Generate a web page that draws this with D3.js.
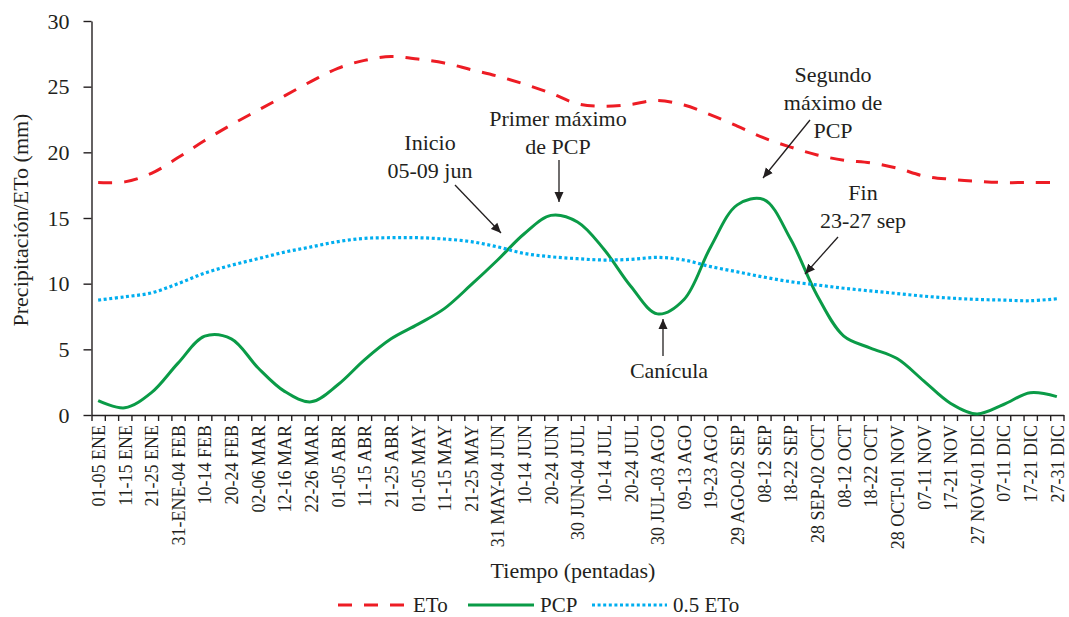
<!DOCTYPE html>
<html>
<head>
<meta charset="utf-8">
<script src="https://cdn.jsdelivr.net/npm/d3@7"></script>
<style>
  body { margin: 0; background: #fff; }
  svg { display: block; font-family: "Liberation Serif", "DejaVu Serif", serif; }
</style>
</head>
<body>
<svg id="chart"></svg>
<script>
// pentad labels (every other pentad is labelled, 73 pentads in total)
const labels = ["01-05 ENE","11-15 ENE","21-25 ENE","31-ENE-04 FEB","10-14 FEB","20-24 FEB",
  "02-06 MAR","12-16 MAR","22-26 MAR","01-05 ABR","11-15 ABR","21-25 ABR","01-05 MAY",
  "11-15 MAY","21-25 MAY","31 MAY-04 JUN","10-14 JUN","20-24 JUN","30 JUN-04 JUL",
  "10-14 JUL","20-24 JUL","30 JUL-03 AGO","09-13 AGO","19-23 AGO","29 AGO-02 SEP",
  "08-12 SEP","18-22 SEP","28 SEP-02 OCT","08-12 OCT","18-22 OCT","28 OCT-01 NOV",
  "07-11 NOV","17-21 NOV","27 NOV-01 DIC","07-11 DIC","17-21 DIC","27-31 DIC"];
const pentadCount = 73;

const eto = [17.7, 17.75, 18.4, 19.6, 20.9, 22.1, 23.2, 24.3, 25.4, 26.4, 27.0, 27.3, 27.1,
  26.8, 26.3, 25.8, 25.2, 24.5, 23.7, 23.5, 23.65, 23.95, 23.6, 22.85, 22.0, 21.1, 20.4,
  19.8, 19.4, 19.2, 18.8, 18.2, 17.95, 17.8, 17.7, 17.7, 17.7];
const pcp = [1.1, 0.55, 1.7, 3.95, 6.0, 5.8, 3.6, 1.8, 1.0, 2.3, 4.2, 5.8, 6.9, 8.1, 9.9,
  11.8, 13.8, 15.2, 14.7, 12.6, 9.8, 7.7, 8.8, 12.8, 16.0, 16.4, 13.4, 9.1, 6.0, 5.1, 4.3,
  2.6, 0.9, 0.08, 0.8, 1.7, 1.4];
const etoHalf = [8.75, 9.0, 9.3, 10.0, 10.8, 11.4, 11.9, 12.4, 12.8, 13.2, 13.45, 13.5, 13.5,
  13.4, 13.2, 12.8, 12.3, 12.05, 11.9, 11.8, 11.85, 12.0, 11.8, 11.3, 10.9, 10.5, 10.15,
  9.9, 9.65, 9.45, 9.25, 9.05, 8.9, 8.8, 8.75, 8.7, 8.85];
const yTicks = [0, 5, 10, 15, 20, 25, 30];

const width = 1069, height = 617;
const svg = d3.select("#chart").attr("width", width).attr("height", height);
const ink = "#231f20";

const x = d3.scaleLinear().domain([0, pentadCount]).range([91.5, 1063.5]);
const y = d3.scaleLinear().domain([0, 30]).range([415, 21]);
// centre of the labelled pentad k (pentad index 2k)
const px = k => x(2 * k + 0.5);

// Y axis
const yAxis = svg.append("g")
    .attr("transform", `translate(${x(0)},0)`)
    .call(d3.axisLeft(y).tickValues(yTicks).tickSize(8).tickSizeOuter(0).tickPadding(14));
yAxis.selectAll("text").style("font-size", "22px").style("font-family", "Liberation Serif").attr("fill", ink);
yAxis.selectAll("line,path").attr("stroke", ink).attr("stroke-width", 1.4);

// X axis: a tick on every pentad boundary
const xAxis = svg.append("g")
    .attr("transform", `translate(0,${y(0)})`)
    .call(d3.axisBottom(x).tickValues(d3.range(pentadCount + 1)).tickSize(6).tickSizeOuter(0).tickFormat(""));
xAxis.selectAll("line,path").attr("stroke", ink).attr("stroke-width", 1.4);

// X labels on every other pentad
const xLab = svg.append("g")
    .attr("transform", `translate(0,${y(0)})`)
    .call(d3.axisBottom(x).tickValues(labels.map((d, k) => 2 * k + 0.5)).tickSize(0)
        .tickFormat((d, i) => labels[i]));
xLab.select(".domain").remove();
xLab.selectAll("text")
    .attr("transform", "rotate(-90)")
    .attr("text-anchor", "end")
    .attr("x", -10).attr("y", 0).attr("dy", "0.35em")
    .style("font-size", "18px").style("font-family", "Liberation Serif").attr("fill", ink);

// axis titles
svg.append("text")
    .attr("transform", "translate(28,220) rotate(-90)")
    .attr("text-anchor", "middle")
    .style("font-size", "22px").attr("fill", ink)
    .text("Precipitación/ETo (mm)");
svg.append("text")
    .attr("x", 573).attr("y", 578)
    .attr("text-anchor", "middle")
    .style("font-size", "22px").attr("fill", ink)
    .text("Tiempo (pentadas)");

// series
const series = [
  { name: "ETo", values: eto, color: "#ed1c24", width: 3, dash: "14,12" },
  { name: "PCP", values: pcp, color: "#0a9b47", width: 3, dash: null },
  { name: "0.5 ETo", values: etoHalf, color: "#00aeef", width: 3.2, dash: "3,2.6" }
];

const line = d3.line()
    .x((d, k) => px(k))
    .y(d => y(d))
    .curve(d3.curveCatmullRom.alpha(0.5));

svg.append("g").selectAll("path")
    .data(series)
    .enter().append("path")
    .attr("d", d => line(d.values))
    .attr("fill", "none")
    .attr("stroke", d => d.color)
    .attr("stroke-width", d => d.width)
    .attr("stroke-dasharray", d => d.dash);

// annotations
const defs = svg.append("defs");
defs.append("marker")
    .attr("id", "arrow")
    .attr("viewBox", "0 0 10 10")
    .attr("refX", 10).attr("refY", 5)
    .attr("markerWidth", 10).attr("markerHeight", 10)
    .attr("markerUnits", "userSpaceOnUse")
    .attr("orient", "auto")
    .append("path")
    .attr("d", "M0,0.5 L10,5 L0,9.5 Z")
    .attr("fill", ink);

const notes = [
  { lines: ["Inicio", "05-09 jun"], x: 430, y: 150, from: [455, 185], to: [501, 233] },
  { lines: ["Primer máximo", "de PCP"], x: 558, y: 126, from: [559, 160], to: [559, 202] },
  { lines: ["Canícula"], x: 669, y: 378, from: [663, 356], to: [663, 319] },
  { lines: ["Segundo", "máximo de", "PCP"], x: 833, y: 82, from: [810, 120], to: [763, 178] },
  { lines: ["Fin", "23-27 sep"], x: 863, y: 200, from: [838, 237], to: [805, 274] }
];

const ann = svg.append("g");
notes.forEach(n => {
  const t = ann.append("text")
      .attr("text-anchor", "middle")
      .style("font-size", "22px").attr("fill", ink);
  n.lines.forEach((s, i) => {
    t.append("tspan").attr("x", n.x).attr("y", n.y + i * 28).text(s);
  });
  ann.append("line")
      .attr("x1", n.from[0]).attr("y1", n.from[1])
      .attr("x2", n.to[0]).attr("y2", n.to[1])
      .attr("stroke", ink).attr("stroke-width", 1.3)
      .attr("marker-end", "url(#arrow)");
});

// legend
const legendPos = [{ x: 338, w: 69 }, { x: 468, w: 66 }, { x: 592, w: 75 }];
const legend = svg.append("g");
series.forEach((s, i) => {
  const p = legendPos[i];
  legend.append("line")
      .attr("x1", p.x).attr("x2", p.x + p.w)
      .attr("y1", 605).attr("y2", 605)
      .attr("stroke", s.color).attr("stroke-width", s.width)
      .attr("stroke-dasharray", s.dash);
  legend.append("text")
      .attr("x", p.x + p.w + 6).attr("y", 612)
      .style("font-size", "21px").attr("fill", ink)
      .text(s.name);
});
</script>
</body>
</html>
